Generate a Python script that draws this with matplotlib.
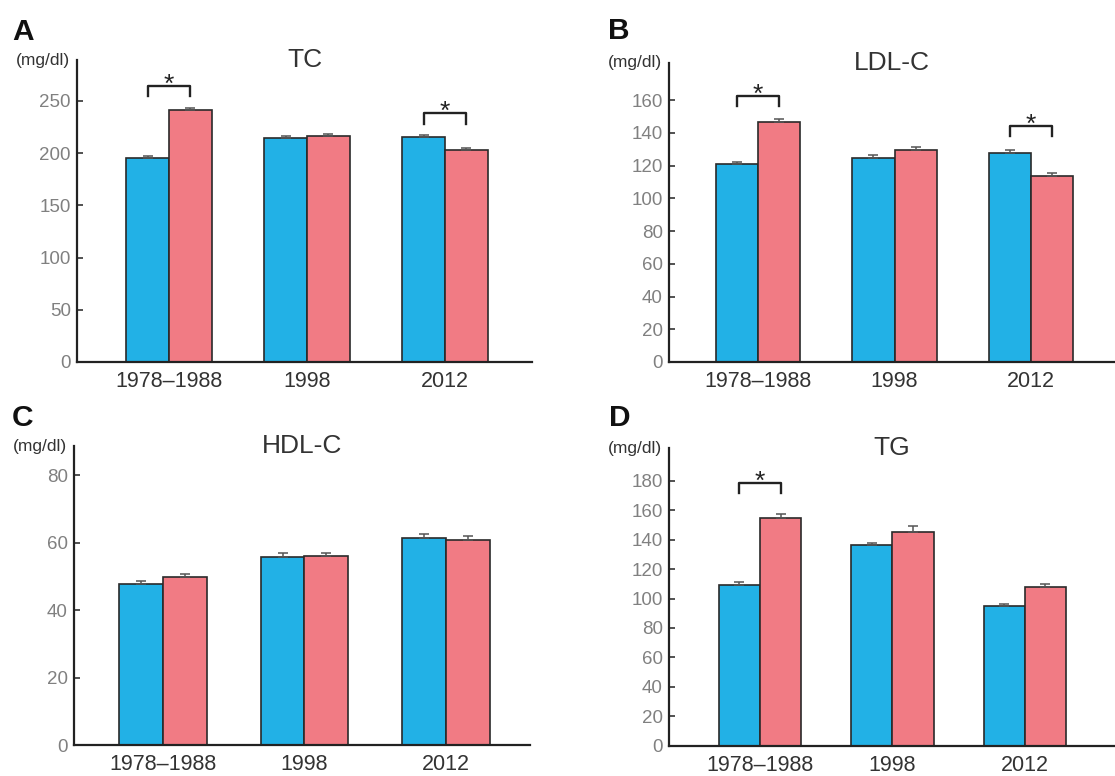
"""Serum lipid levels by survey period, four-panel bar chart."""

import matplotlib
matplotlib.use("Agg")
import matplotlib.pyplot as plt

plt.rcParams["font.family"] = ["Liberation Sans", "DejaVu Sans"]

W, H = 1115, 776

periods = ["1978–1988", "1998", "2012"]

tc_blue = [195, 214, 215]
tc_pink = [241, 216.5, 203]
tc_blue_err = [2.5, 2.5, 2]
tc_pink_err = [2, 2, 2]
tc_sig = [0, 2]

ldl_blue = [121, 124.5, 127.5]
ldl_pink = [146.5, 129.5, 113.5]
ldl_blue_err = [1.2, 1.8, 1.8]
ldl_pink_err = [1.8, 1.8, 1.8]
ldl_sig = [0, 2]

hdl_blue = [47.6, 55.7, 61.3]
hdl_pink = [49.9, 56.1, 60.7]
hdl_blue_err = [0.9, 1.1, 1.1]
hdl_pink_err = [0.8, 0.7, 1.2]
hdl_sig = []

tg_blue = [109.5, 136.5, 95]
tg_pink = [154.5, 145.5, 107.5]
tg_blue_err = [1.4, 1.0, 1.6]
tg_pink_err = [3.1, 3.6, 2.5]
tg_sig = [0]

BLUE = "#22B1E6"
PINK = "#F17B84"
EDGE = "#2a2a2a"
BAR_W = 0.31


def px_axes(fig, left, top, right, bottom):
    """Add axes placed by pixel edges (top-left origin)."""
    return fig.add_axes([left / W, 1 - bottom / H, (right - left) / W, (bottom - top) / H])


def draw_panel(ax, title, blue, pink, blue_err, pink_err, sig, bracket_tops,
               ymax, ytop, step, xlim):
    xs = list(range(len(periods)))
    xb = [x - BAR_W / 2 for x in xs]
    xp = [x + BAR_W / 2 for x in xs]

    ax.bar(xb, blue, BAR_W, color=BLUE, edgecolor=EDGE, linewidth=1.2, zorder=2)
    ax.bar(xp, pink, BAR_W, color=PINK, edgecolor=EDGE, linewidth=1.2, zorder=2)
    zeros = [0] * len(xs)
    for x, v, e in ((xb, blue, blue_err), (xp, pink, pink_err)):
        ax.errorbar(x, v, yerr=[zeros, e], fmt="none", ecolor="#555555",
                    elinewidth=1.1, capsize=3.5, capthick=1.1, zorder=3)

    leg = ytop * 0.034
    for g, top in zip(sig, bracket_tops):
        x0, x1 = g - BAR_W / 2, g + BAR_W / 2
        ax.plot([x0, x0, x1, x1], [top - leg, top, top, top - leg],
                color="#222222", lw=1.7, clip_on=False, zorder=4)
        ax.annotate("*", xy=(g, top), xytext=(0, -4), textcoords="offset points",
                    ha="center", va="baseline", fontsize=19, color="#222222")

    ax.set_xlim(*xlim)
    ax.set_ylim(0, ytop)
    ax.set_yticks(list(range(0, ymax + 1, step)))
    ax.set_xticks(xs)
    ax.set_xticklabels(periods)

    for side in ("top", "right"):
        ax.spines[side].set_visible(False)
    for side in ("left", "bottom"):
        ax.spines[side].set_linewidth(1.6)
        ax.spines[side].set_color("#222222")

    ax.tick_params(axis="y", direction="in", length=4, width=1.2, color="#333333",
                   labelcolor="#808080", labelsize=13.5, pad=4.5)
    ax.tick_params(axis="x", length=0, labelcolor="#333333", labelsize=15.5, pad=6.5)

    ax.text(0.5, 1.0, title, transform=ax.transAxes, ha="center", va="center",
            fontsize=19, color="#333333")
    ax.annotate("(mg/dl)", xy=(0, 1), xycoords="axes fraction", xytext=(-5, 0),
                textcoords="offset points", ha="right", va="center",
                fontsize=12.5, color="#333333")


fig = plt.figure(figsize=(W / 100, H / 100), dpi=100)

ax_a = px_axes(fig, 77, 60, 532, 362)
draw_panel(ax_a, "TC", tc_blue, tc_pink, tc_blue_err, tc_pink_err,
           tc_sig, [264, 238], 250, 289, 50, (-0.667, 2.63))

ax_b = px_axes(fig, 669, 63, 1115, 362)
draw_panel(ax_b, "LDL-C", ldl_blue, ldl_pink, ldl_blue_err, ldl_pink_err,
           ldl_sig, [162.4, 144], 160, 182.6, 20, (-0.652, 2.615))

ax_c = px_axes(fig, 74, 446, 530, 745)
draw_panel(ax_c, "HDL-C", hdl_blue, hdl_pink, hdl_blue_err, hdl_pink_err,
           hdl_sig, [], 80, 88.6, 20, (-0.629, 2.594))

ax_d = px_axes(fig, 669, 448, 1115, 745.5)
draw_panel(ax_d, "TG", tg_blue, tg_pink, tg_blue_err, tg_pink_err,
           tg_sig, [178.6], 180, 202.4, 20, (-0.687, 2.68))

for letter, px, py in (("A", 12, 40), ("B", 608, 39), ("C", 12, 426), ("D", 609, 426)):
    fig.text(px / W, 1 - py / H, letter, ha="left", va="baseline",
             fontsize=21.5, fontweight="bold", color="#111111")

fig.savefig("out.png", dpi=100)
